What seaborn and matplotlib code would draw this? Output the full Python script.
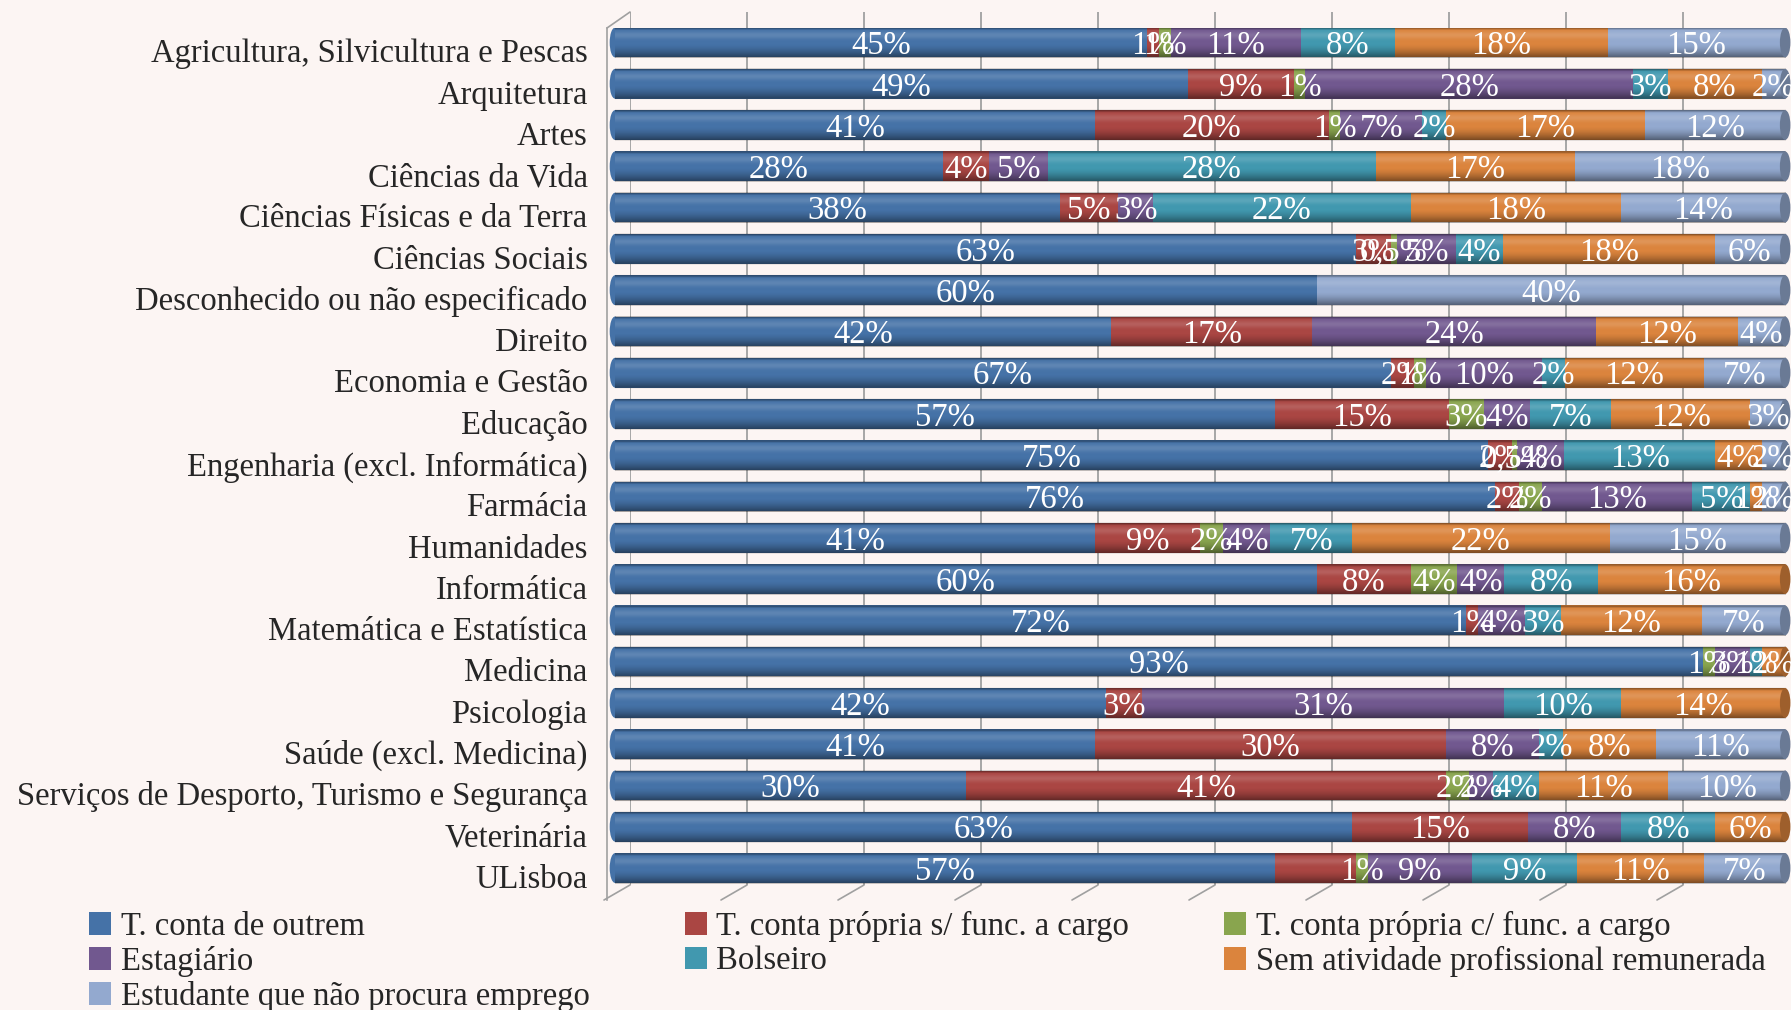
import numpy as np
import pandas as pd
import matplotlib
matplotlib.use("Agg")
import matplotlib.pyplot as plt
import seaborn as sns
from matplotlib.patches import Patch, Ellipse
from matplotlib.lines import Line2D
from matplotlib.transforms import IdentityTransform, ScaledTranslation
from matplotlib.colors import to_rgb

# dados (percentagens)
categorias = ["Agricultura, Silvicultura e Pescas", "Arquitetura", "Artes", "Ciências da Vida",
              "Ciências Físicas e da Terra", "Ciências Sociais", "Desconhecido ou não especificado",
              "Direito", "Economia e Gestão", "Educação", "Engenharia (excl. Informática)", "Farmácia",
              "Humanidades", "Informática", "Matemática e Estatística", "Medicina", "Psicologia",
              "Saúde (excl. Medicina)", "Serviços de Desporto, Turismo e Segurança", "Veterinária", "ULisboa"]

conta_outrem = [45, 49, 41, 28, 38, 63, 60, 42, 67, 57, 75, 76, 41, 60, 72, 93, 42, 41, 30, 63, 57]
propria_sem_func = [1, 9, 20, 4, 5, 3, 0, 17, 2, 15, 2, 2, 9, 8, 1, 0, 3, 30, 41, 15, 7]
propria_com_func = [1, 1, 1, 0, 0, 0.5, 0, 0, 1, 3, 0.5, 2, 2, 4, 0, 1, 0, 0, 2, 0, 1]
estagiario = [11, 28, 7, 5, 3, 5, 0, 24, 10, 4, 4, 13, 4, 4, 4, 3, 31, 8, 2, 8, 9]
bolseiro = [8, 3, 2, 28, 22, 4, 0, 0, 2, 7, 13, 5, 7, 8, 3, 1, 10, 2, 4, 8, 9]
sem_atividade = [18, 8, 17, 17, 18, 18, 0, 12, 12, 12, 4, 1, 22, 16, 12, 2, 14, 8, 11, 6, 11]
estudante = [15, 2, 12, 18, 14, 6, 40, 4, 7, 3, 2, 2, 15, 0, 7, 0, 0, 11, 10, 0, 7]

series = ["T. conta de outrem", "T. conta própria s/ func. a cargo", "T. conta própria c/ func. a cargo",
          "Estagiário", "Bolseiro", "Sem atividade profissional remunerada",
          "Estudante que não procura emprego"]
cores = ["#4572A7", "#AA4643", "#89A54E", "#71588F", "#4198AF", "#DB843D", "#93A9CF"]

# rótulo que não aparece no original
sem_rotulo = [("ULisboa", "T. conta própria s/ func. a cargo")]

df = pd.DataFrame(dict(zip(series, [conta_outrem, propria_sem_func, propria_com_func, estagiario,
                                    bolseiro, sem_atividade, estudante])), index=categorias)
quota = df.div(df.sum(axis=1), axis=0) * 100
acum = quota.cumsum(axis=1)

W, H = 1791, 1010
BG = "#FCF5F3"

sns.set_style("white")
plt.rcParams["font.family"] = ["Liberation Serif", "DejaVu Serif"]
FS = 23.5

fig = plt.figure(figsize=(W / 100, H / 100), dpi=100, facecolor=BG)


def caixa(x0, y0, x1, y1):
    return [x0 / W, 1 - y1 / H, (x1 - x0) / W, (y1 - y0) / H]


# parede de fundo com a grelha
fundo = fig.add_axes(caixa(630, 12, 1800, 885))
fundo.set_facecolor("none")
fundo.set_xlim(0, 100)
fundo.set_ylim(0, 1)
fundo.set_xticks(np.arange(0, 101, 10))
fundo.set_yticks([])
fundo.tick_params(length=0, labelbottom=False)
fundo.grid(axis="x", color="#A0A0A0", linewidth=1.3)
for s in fundo.spines.values():
    s.set_visible(False)

# eixo da frente com as barras
ax = fig.add_axes(caixa(607, 28, 1791, 900))
ax.set_facecolor("none")

for col, cor in reversed(list(zip(series, cores))):
    sns.barplot(x=acum[col].values, y=categorias, color=cor, orient="h", width=0.72,
                saturation=1, errorbar=None, ax=ax, linewidth=0)

n = len(categorias)

# sombreado cilíndrico
por_linha = 60
u = (np.arange(por_linha) + 0.5) / por_linha - 0.5
dentro = np.abs(u) < 0.36
t = np.clip((u + 0.36) / 0.72, 0, 1)
escuro = 0.45 * np.clip((t - 0.55) / 0.45, 0, 1) ** 1.5 + 0.45 * np.clip((0.1 - t) / 0.1, 0, 1) ** 1.5
claro = 0.14 * np.exp(-((t - 0.25) / 0.12) ** 2)
perfil = np.zeros((por_linha, 4))
usa_claro = claro > escuro
perfil[usa_claro, :3] = 1
perfil[:, 3] = np.where(usa_claro, claro, escuro) * dentro
img = np.tile(perfil, (n, 1))[:, None, :]
ax.imshow(img, extent=(0, 100, n - 0.5, -0.5), aspect="auto", interpolation="bilinear", zorder=3)

# extremidades dos cilindros
for i, cat in enumerate(categorias):
    ax.add_patch(Ellipse((0, i), 0.9, 0.72, color=cores[0], zorder=0.5, lw=0))
    ultima = [c for c in series if df.loc[cat, c] > 0][-1]
    rgb = np.array(to_rgb(cores[series.index(ultima)])) * 0.72
    ax.add_patch(Ellipse((100, i), 0.9, 0.72, color=rgb, zorder=3.5, lw=0))

# rótulos de dados
for i, cat in enumerate(categorias):
    for col in series:
        v = df.loc[cat, col]
        if v == 0 or (cat, col) in sem_rotulo:
            continue
        txt = (f"{v:g}".replace(".", ",")) + "%"
        ax.text(acum.loc[cat, col] - quota.loc[cat, col] / 2, i, txt, ha="center",
                va="center_baseline", color="white", fontsize=FS, zorder=4)

ax.set_xlim(-0.68, 100.5)
ax.set_ylim(20.775, -0.351)
ax.set_xlabel("")
ax.set_ylabel("")
ax.set_xticks([])
ax.set_yticks(np.arange(n))
ax.set_yticklabels(categorias, fontsize=FS)
ax.set_yticks(np.arange(-0.35, n, 1), minor=True)
ax.tick_params(axis="y", which="major", length=0, pad=14)
ax.tick_params(axis="y", which="minor", length=6.5, color="#A0A0A0", direction="out", width=1)
desce = ScaledTranslation(0, -8 / 100, fig.dpi_scale_trans)
for lab in ax.get_yticklabels():
    lab.set_transform(lab.get_transform() + desce)
for k in ["top", "right", "bottom"]:
    ax.spines[k].set_visible(False)
ax.spines["left"].set_color("#A0A0A0")
ax.spines["left"].set_linewidth(1.2)

# linhas oblíquas da perspetiva
fig.add_artist(Line2D([607, 630], [H - 28, H - 12], transform=IdentityTransform(),
                      color="#A0A0A0", lw=1.2))
for k in np.arange(0, 101, 10):
    bx, by = fundo.transData.transform((k, 0))
    if bx > W:
        continue
    fig.add_artist(Line2D([bx, bx - 26], [by, by - 15], transform=IdentityTransform(),
                          color="#A0A0A0", lw=1.2))

# legenda (ordem por linhas, como no original)
ordem = [0, 3, 6, 1, 4, 2, 5]
handles = [Patch(facecolor=cores[j], edgecolor="none", label=series[j]) for j in ordem]
fig.legend(handles=handles, ncol=3, loc="upper left", bbox_to_anchor=(89 / W, 1 - 911 / H),
           frameon=False, fontsize=FS, handlelength=0.68, handleheight=0.68, handletextpad=0.3,
           columnspacing=2.9, labelspacing=0.12, borderpad=0, borderaxespad=0)

fig.savefig("out.png", dpi=100, facecolor=BG)
